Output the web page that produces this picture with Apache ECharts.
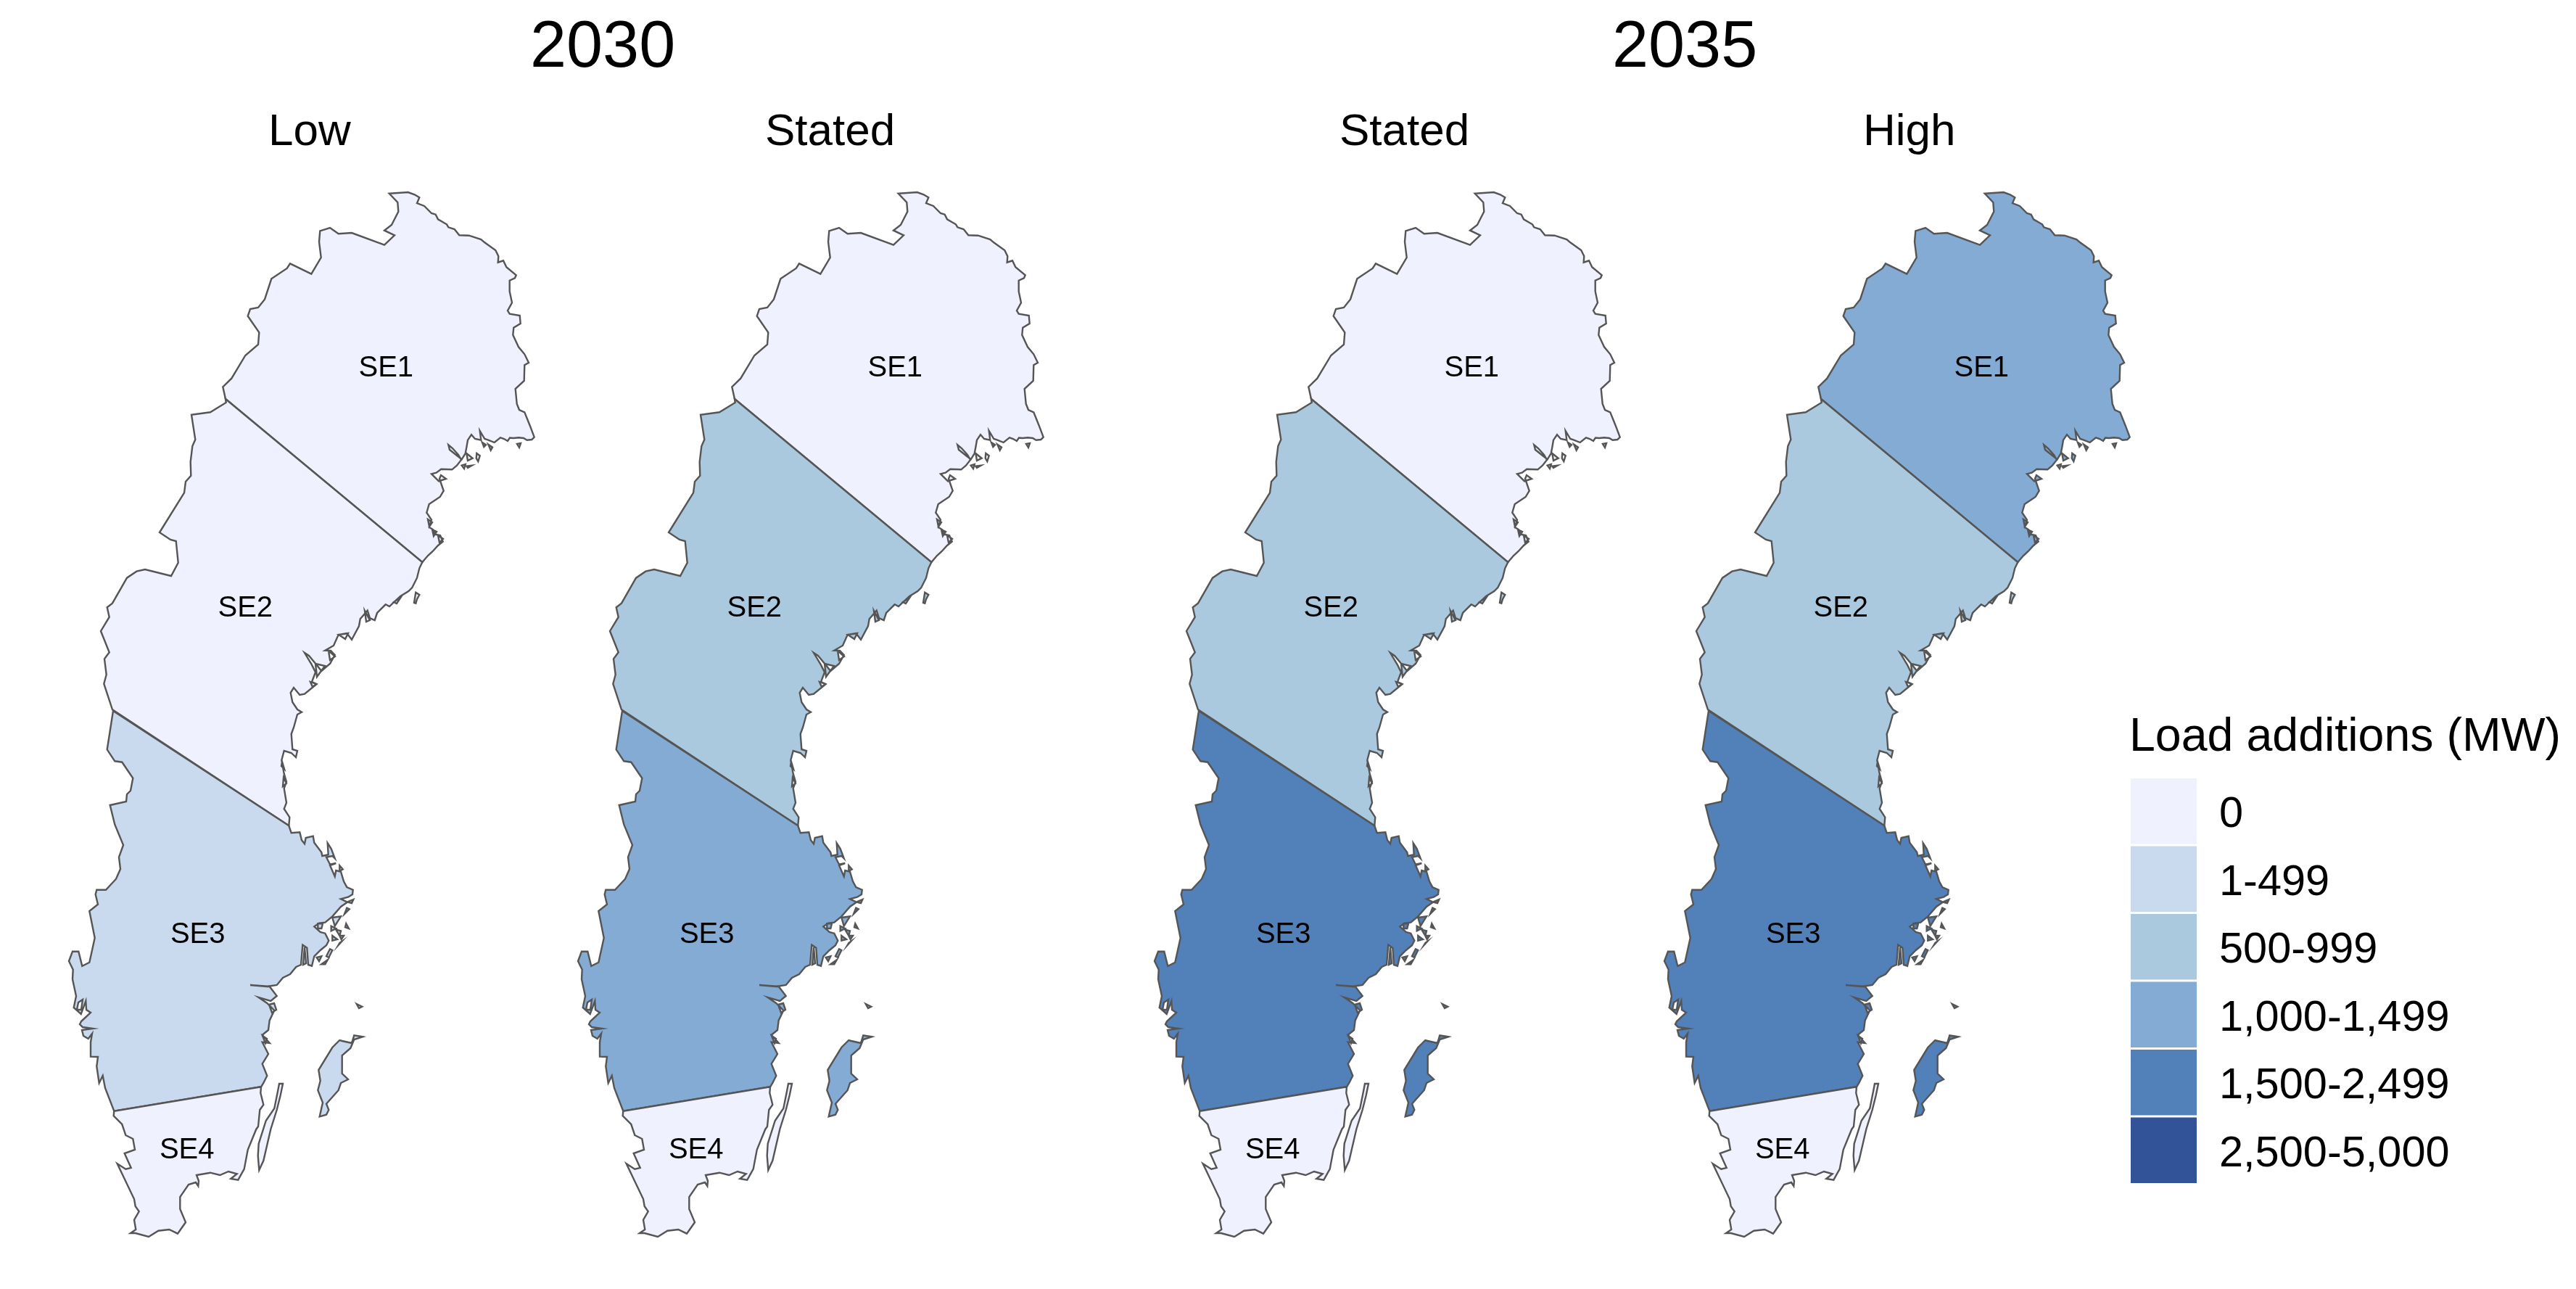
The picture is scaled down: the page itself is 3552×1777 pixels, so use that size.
<!DOCTYPE html>
<html>
<head>
<meta charset="UTF-8">
<title>Load additions</title>
<script src="https://cdn.jsdelivr.net/npm/echarts@6/dist/echarts.min.js"></script>
<style>
html,body{margin:0;padding:0;background:#fff}
#main{width:3552px;height:1777px}
</style>
</head>
<body>
<div id="main"></div>
<script>
// values per panel
var zones = ['SE1', 'SE2', 'SE3', 'SE4'];
var low2030 = [0, 0, 250, 0];
var stated2030 = [0, 750, 1250, 0];
var stated2035 = [0, 750, 2000, 0];
var high2035 = [1250, 750, 2000, 0];

var panelNames = ['Low', 'Stated', 'Stated', 'High'];
var yearNames = ['2030', '2035'];
var binLabels = ['0', '1-499', '500-999', '1,000-1,499', '1,500-2,499', '2,500-5,000'];
var binMin = [0, 1, 500, 1000, 1500, 2500];
var binMax = [0, 499, 999, 1499, 2499, 5000];
var binColors = ['#eff2fe', '#c9d9ee', '#abc9de', '#83abd3', '#5280b8', '#325398'];

// traced outline of the country, one list of rings per zone
var se1Rings = [
  [[311,550],[307.3,533.3],[319.3,521.7],[338.3,490],[356,475],[357.3,458.3],[341.7,435.7],[345,426],[356,424],[365,412.7],[374.3,384.3],[395.7,370],[400,363.3],[429.3,377.7],[442.7,355],[440,333.3],[441.3,318.3],[455,314],[466.7,322.3],[485,321],[530,337.7],[544,324.3],[530,317.7],[540,310],[549.3,291.7],[548.3,279],[536.7,266.7],[562.7,265],[571.7,268.3],[578.3,272.3],[575,280],[585,284],[595,294],[600.7,295.7],[604,302.3],[616,309.3],[618.3,313.3],[626.7,316],[633.3,324.3],[646.7,324.7],[663.3,330],[668.3,334.3],[683.3,345],[687.3,353.3],[686.7,361.7],[694,359.3],[698.3,368.3],[711.7,379.3],[710,383.3],[702.7,386.7],[702.7,401.7],[706,417.3],[700,428.3],[702.7,432.7],[716.7,435],[717.7,446],[708.3,451.7],[707.3,461.7],[715,478.3],[723.3,488.3],[729,500],[723.3,503.3],[722.7,525],[710.7,536],[712.7,556.7],[716,565],[723.3,568.3],[730.7,586.7],[736.7,602.7],[733.3,606],[726.7,606.7],[722,604],[715,603.3],[708,604],[703,603.5],[700,608],[695,605],[690,603.3],[681.7,610],[673.3,606.7],[668.3,605],[661.7,594],[663.3,606.7],[655,605],[650,599.3],[645,606.7],[643.3,616.7],[641.7,625],[636.7,633.3],[630,628],[620,620],[618.3,613.3],[624,618],[632,627],[636,634],[630,641.7],[623.3,647.3],[608.3,646.7],[601.7,651.7],[595,653.3],[600,658.3],[605,663.3],[615,660],[608,655],[606,660],[611.7,676.7],[606.7,685],[591.7,695],[588.3,706.7],[595,716.7],[591.7,726.7],[597,730],[600,736.7],[607,738],[610.7,746.7],[604,752],[596.7,760],[590,766],[582.3,775]],
  [[665,610],[670,613.3],[667.3,616]],
  [[673.3,612.7],[679,616.7],[676.7,620.7]],
  [[713,612],[718,611],[716,617]],
  [[636.7,641.7],[641.7,640],[640,646]],
  [[643.3,642.7],[650.7,641.7],[645,645]],
  [[657.3,625],[661.7,628.3],[659.3,636],[656.7,631.7]],
  [[643.3,625],[651.7,631.7],[645,635]],
  [[590,716],[596,720],[592,726]],
  [[596,730],[602,733],[598,739]],
  [[604,738],[611,743],[606,748]]
];
var se2Rings = [
  [[311,550],[311.7,555],[290,568.3],[264,571.7],[269.3,606],[265.3,615],[262.7,636.7],[263.3,655.7],[256,664],[254,679.3],[220,734],[235,744],[242.7,746],[245.7,775.7],[236,794],[200,785],[188.3,787.7],[175,796.7],[155,831.7],[147.7,837.3],[150.7,850.7],[139,870],[150.7,899.3],[144,908.3],[146.7,930],[143.3,942.7],[155,978.3],[398.3,1138.3],[399.3,1126.7],[391.7,1115],[395,1106.7],[391.7,1086.7],[395,1078],[391.7,1066.7],[388.3,1048],[391.7,1035],[401.7,1038],[408,1044],[410,1035],[403.3,1033],[401.7,1011.7],[405,1003],[410,985],[416,981.7],[410,978],[403.3,968],[400.7,955],[405,948],[413.3,958],[420,956.7],[436.7,943],[430,940],[435,926.7],[430,916.7],[420,900],[426,904],[436.7,916.7],[443.3,925],[455,915],[461.7,903],[456,897],[448.3,896.7],[460,890],[466.7,875],[478.3,873],[485,881.7],[495,863],[496.7,853.3],[506.7,841.7],[510,852],[516.7,855],[520,845],[531.7,833.3],[537,836],[543.3,830],[552,822],[563.3,815],[568.3,810],[575,796.7],[578.3,783.3],[582.3,775]],
  [[573.3,816.7],[578.3,820],[575,826],[573.3,831.7],[571,831]],
  [[435,915],[448,918],[437,933]],
  [[453,897],[462,905],[455,910]],
  [[467,875],[480,873],[476,881]],
  [[428,940],[436,943],[431,947]],
  [[503,842],[510,855],[505,857]],
  [[543,830],[553,823],[547,832]],
  [[389,1050],[392,1060],[388,1056]],
  [[391,1072],[395,1080],[390,1084]]
];
var se3Rings = [
  [[156,980],[147.7,1033.3],[158.3,1049.3],[168.3,1050.7],[183.3,1072.7],[180,1090],[175,1095],[174,1105],[151.7,1110],[158.3,1136.7],[170,1165],[164,1181.7],[166,1198],[160,1211.7],[146,1226.7],[133.3,1226.7],[131.7,1233],[135,1246.7],[123.3,1256],[130.7,1293],[123.3,1326.7],[113.3,1331.7],[108.3,1311.7],[100,1311.7],[95,1325],[100.7,1336.7],[100,1350],[105,1373.3],[101.7,1389],[111.7,1398],[118.3,1380],[119,1392],[125,1396],[112,1408],[110,1412],[114,1416],[128,1418],[113,1420],[115,1428],[121.7,1432],[127,1425],[125,1436.7],[125,1456.7],[135,1457],[133.3,1470],[136.7,1493],[141.7,1483],[145,1500],[157.3,1531.7],[360,1498.3],[363.3,1493],[368.3,1483],[361.7,1466.7],[370,1453],[361.7,1436.7],[371.7,1438],[361.7,1426.7],[370,1420],[371.7,1406.7],[378.3,1393],[368.3,1383],[356.7,1375],[373.3,1380],[381.7,1373],[371.7,1360],[345,1358],[368.3,1360],[381.7,1358],[390,1348],[400,1343],[408.3,1333],[415,1330],[417.3,1302.7],[423.3,1306.7],[425,1330],[430,1331.7],[433.3,1318.3],[441.7,1310],[450,1303.3],[453.3,1296.7],[448.3,1286.7],[441.7,1285],[433.3,1277.3],[440,1272.7],[448.3,1271.7],[458.3,1263.3],[470,1250],[480,1243],[487.3,1240],[485,1245],[478.3,1243.3],[470,1239.3],[480,1236.7],[486,1233],[486.7,1226.7],[478.3,1223],[474,1215],[470,1201.7],[463.3,1200],[461.7,1208.3],[455,1193],[463.3,1190],[455,1191.7],[450,1181.7],[458.3,1180],[461.7,1183.3],[456.7,1170],[451.7,1162.3],[452.7,1178.3],[444.3,1180],[443.3,1175],[433.3,1161.7],[431.7,1152.7],[421.7,1155],[420,1163.3],[416,1158.3],[413.3,1147.3],[401.7,1148.3],[398.3,1138.3]],
  // Gotland
  [[500,1429.3],[488.3,1427.3],[485,1438],[471.7,1435],[468.3,1434],[458.3,1444],[439.3,1475],[441.7,1490],[438.3,1503],[445,1520],[440.7,1539.3],[450,1536.7],[453.3,1530],[450,1521.7],[466.7,1503],[470,1493],[480,1488],[471.7,1480],[471.7,1455],[483.3,1445],[488.3,1433]],
  [[491.7,1384],[499.3,1387.7],[495,1390]],
  [[468.3,1193.3],[472.7,1198.3],[468.3,1200.7]],
  [[478.3,1251.7],[481.7,1253.3],[475,1260]],
  [[477.3,1273.3],[481,1280],[476,1278.3]],
  [[468.3,1300],[470.7,1298.3],[466.7,1302.7]],
  [[455,1308.3],[458.3,1310],[453.3,1320],[450,1318.3]],
  [[436.7,1320],[443.3,1318.3],[440,1325]],
  [[443.3,1329.3],[451.7,1323.3],[448.3,1329.3]],
  [[458.3,1290],[465,1295],[458.3,1296.7]],
  [[468.3,1290],[474,1290],[470.7,1295]],
  [[463.3,1281.7],[470,1283.3],[468.3,1290]],
  [[458.3,1265],[470,1263.3],[461.7,1276.7]],
  [[456.7,1276.7],[463.3,1280],[456.7,1283.3]],
  [[438.3,1273.3],[445,1273.3],[443.3,1280],[438.3,1280]],
  [[420,1306],[422,1328],[418,1330]],
  [[108,1382],[114,1378],[112,1392],[106,1392]],
  [[371,1385],[378,1383],[381,1392],[375,1396]],
  [[362,1428],[368,1432],[366,1438]]
];
var se4Rings = [
  [[157.3,1531.7],[156.7,1538.3],[168.3,1550],[173.3,1565],[183.3,1570],[186,1585],[171.7,1590],[180.7,1610],[173.3,1611.7],[161.7,1604.3],[185,1653],[186.7,1663],[191.7,1670],[185,1681.7],[187.3,1695],[180,1700],[186.7,1700],[205,1705],[218.3,1696.7],[233.3,1695],[245,1700.7],[256,1685],[248.3,1666.7],[248.3,1650],[260,1633],[270,1630],[273.3,1635],[274,1628],[271,1620],[290,1616.7],[303.3,1620],[315,1615],[326.7,1618.3],[318.3,1625],[328.3,1626.7],[336.7,1611.7],[341.7,1585],[353.3,1556.7],[356,1553],[358.3,1530],[363.3,1523],[359.3,1506.7],[360,1498.3]],
  // Oland
  [[385,1494],[390,1494],[386.7,1510],[381.7,1530],[373.3,1556.7],[363.3,1600],[357.3,1613],[355.7,1593],[356.7,1576.7],[366.7,1545],[378.3,1528],[383.3,1503]]
];
var zoneRings = [se1Rings, se2Rings, se3Rings, se4Rings];
var zoneLabelAt = [[532.3,507.7],[338.3,839.3],[272.7,1289.3],[257.7,1586]];

var panelOffsets = [0, 702, 1497, 2200];
var font = '"Liberation Sans", Arial, sans-serif';

var features = zones.map(function(name, i){
  return {
    type: 'Feature',
    properties: {name: name, cp: zoneLabelAt[i]},
    geometry: {type: 'MultiPolygon', coordinates: zoneRings[i].map(function(r){ return [r]; })}
  };
});
// map series on the same map get merged and summed, so every panel needs its own name
panelOffsets.forEach(function(o, i){
  echarts.registerMap('sweden' + i, {type: 'FeatureCollection', features: features});
});

// the outline is already flat, so the map area has to be the same size as the tracing
var minX = 1e9, maxX = -1e9, minY = 1e9, maxY = -1e9;
zoneRings.forEach(function(rings){
  rings.forEach(function(r){
    r.forEach(function(p){
      minX = Math.min(minX, p[0]); maxX = Math.max(maxX, p[0]);
      minY = Math.min(minY, p[1]); maxY = Math.max(maxY, p[1]);
    });
  });
});

function mapSeries(values, i){
  return {
    type: 'map',
    map: 'sweden' + i,
    projection: {
      project: function(p){ return p; },
      unproject: function(p){ return p; }
    },
    left: minX + panelOffsets[i],
    top: minY,
    width: maxX - minX,
    height: maxY - minY,
    silent: true,
    selectedMode: false,
    itemStyle: {borderColor: '#555', borderWidth: 2.4},
    label: {show: true, color: '#000', fontSize: 40, fontFamily: font},
    emphasis: {disabled: true},
    data: zones.map(function(z, j){ return {name: z, value: values[j]}; })
  };
}

var pieces = binLabels.map(function(l, i){
  return {min: binMin[i], max: binMax[i], label: l, color: binColors[i]};
});

function heading(text, left, top, size){
  return {text: text, left: left, top: top, padding: 0,
    textStyle: {color: '#000', fontFamily: font, fontWeight: 'normal', fontSize: size}};
}

// visualMap centres its labels on the swatch, the reference sits a bit lower, so they go in as titles
var legendLabels = binLabels.map(function(l, i){
  return heading(l, 3060, 1094 + i * 93.5, 59.5);
});

var myChart = echarts.init(document.getElementById('main'), null, {renderer: 'canvas'});
myChart.setOption({
  animation: false,
  backgroundColor: '#fff',
  title: [
    heading(yearNames[0], 731, 22, 90),
    heading(yearNames[1], 2223, 22, 90),
    heading(panelNames[0], 370, 152, 62),
    heading(panelNames[1], 1055, 152, 62),
    heading(panelNames[2], 1847, 152, 62),
    heading(panelNames[3], 2569, 152, 62),
    heading('Load additions (MW)', 2936, 985, 64.5)
  ].concat(legendLabels),
  visualMap: {
    type: 'piecewise',
    seriesIndex: [0, 1, 2, 3],
    pieces: pieces,
    orient: 'vertical',
    inverse: true,
    align: 'left',
    left: 2938,
    top: 1073,
    padding: 0,
    itemWidth: 91,
    itemHeight: 90.5,
    itemGap: 3,
    showLabel: false,
    itemSymbol: 'rect',
    selectedMode: false,
    hoverLink: false
  },
  series: [
    mapSeries(low2030, 0),
    mapSeries(stated2030, 1),
    mapSeries(stated2035, 2),
    mapSeries(high2035, 3)
  ]
});
</script>
</body>
</html>
